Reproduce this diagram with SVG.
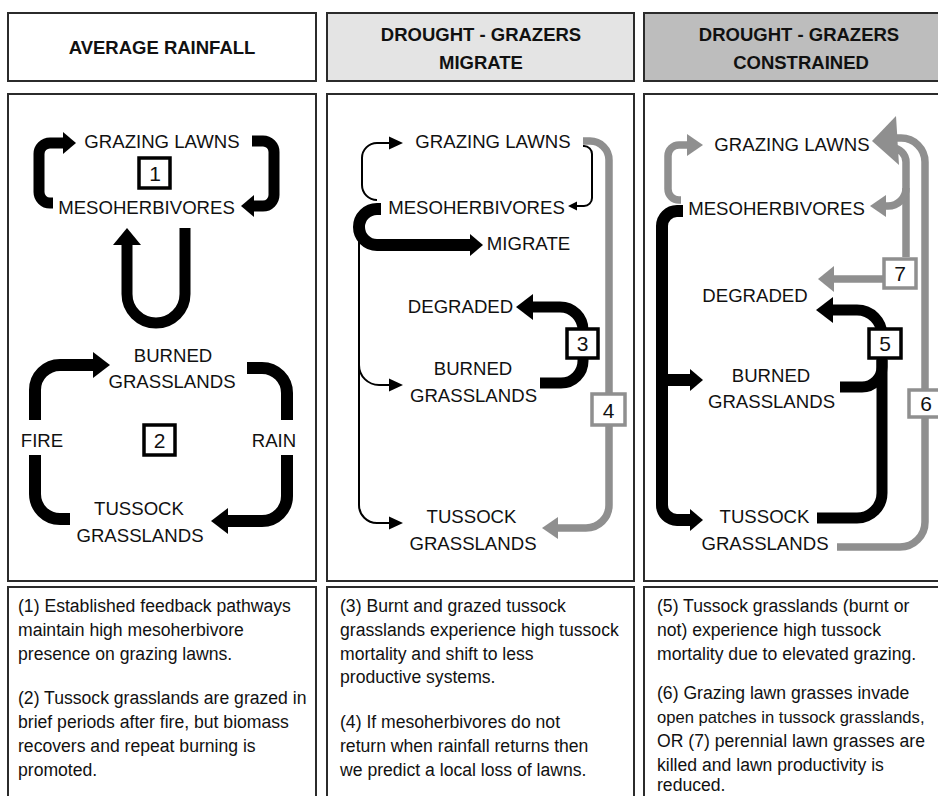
<svg xmlns="http://www.w3.org/2000/svg" width="938" height="796" viewBox="0 0 938 796">
<style>
.frame{fill:#fff;stroke:#2b2b2b;stroke-width:2}
.hd{font-family:"Liberation Sans",Arial,sans-serif;font-weight:bold;font-size:18.5px;fill:#111;text-anchor:middle}
.lb{font-family:"Liberation Sans",Arial,sans-serif;font-size:18.6px;fill:#111;text-anchor:middle}
.tx{font-family:"Liberation Sans",Arial,sans-serif;font-size:17.6px;fill:#111}
.num{font-family:"Liberation Sans",Arial,sans-serif;font-size:21px;fill:#111;text-anchor:middle}
.nb{fill:#fff;stroke:#000;stroke-width:3.5}
.ng{fill:#fff;stroke:#8f8f8f;stroke-width:3.5}
.k12{fill:none;stroke:#000;stroke-width:12}
.k11{fill:none;stroke:#000;stroke-width:11}
.k2{fill:none;stroke:#000;stroke-width:2}
.g7{fill:none;stroke:#8f8f8f;stroke-width:7.5}
</style>
<defs>
<marker id="bS" markerUnits="userSpaceOnUse" orient="auto" viewBox="-1 -11 14 22" markerWidth="14" markerHeight="22" refX="0" refY="0"><path d="M-1,-11 L12,0 L-1,11 z" fill="#000"/></marker>
<marker id="bL" markerUnits="userSpaceOnUse" orient="auto" viewBox="-1 -13 18 26" markerWidth="18" markerHeight="26" refX="0" refY="0"><path d="M-1,-13 L16,0 L-1,13 z" fill="#000"/></marker>
<marker id="bU" markerUnits="userSpaceOnUse" orient="auto" viewBox="-1 -14 18 28" markerWidth="18" markerHeight="28" refX="0" refY="0"><path d="M-1,-14 L16,0 L-1,14 z" fill="#000"/></marker>
<marker id="bT" markerUnits="userSpaceOnUse" orient="auto" viewBox="-1 -7 15 14" markerWidth="15" markerHeight="14" refX="0" refY="0"><path d="M-1,-6.5 L13,0 L-1,6.5 z" fill="#000"/></marker>
<marker id="bTs" markerUnits="userSpaceOnUse" orient="auto" viewBox="-1 -5 10 10" markerWidth="10" markerHeight="10" refX="0" refY="0"><path d="M-1,-4.5 L8,0 L-1,4.5 z" fill="#000"/></marker>
<marker id="gM" markerUnits="userSpaceOnUse" orient="auto" viewBox="-1 -12 17 24" markerWidth="17" markerHeight="24" refX="0" refY="0"><path d="M-1,-11 L15,0 L-1,11 z" fill="#8f8f8f"/></marker>
<marker id="gL" markerUnits="userSpaceOnUse" orient="auto" viewBox="-1 -13 17 26" markerWidth="17" markerHeight="26" refX="0" refY="0"><path d="M-1,-13 L15,0 L-1,13 z" fill="#8f8f8f"/></marker>
</defs>
<rect width="938" height="796" fill="#fff"/>

<g id="headers">
<g id="head-average"><rect class="frame" x="8" y="13" width="308" height="68"/><text class="hd" x="162" y="54">AVERAGE RAINFALL</text></g>
<g id="head-migrate"><rect class="frame" x="327" y="13" width="307" height="68" style="fill:#e4e4e4"/><text class="hd" x="481" y="41">DROUGHT - GRAZERS</text><text class="hd" x="481" y="69">MIGRATE</text></g>
<g id="head-constrained"><rect class="frame" x="644" y="13" width="300" height="68" style="fill:#bdbdbd"/><text class="hd" x="799" y="41">DROUGHT - GRAZERS</text><text class="hd" x="801" y="69">CONSTRAINED</text></g>
</g>

<g id="panels">
<rect class="frame" x="8" y="94" width="308" height="487"/>
<rect class="frame" x="327" y="94" width="307" height="487"/>
<rect class="frame" x="644" y="94" width="300" height="487"/>
<rect class="frame" x="8" y="587" width="308" height="215"/>
<rect class="frame" x="327" y="587" width="307" height="215"/>
<rect class="frame" x="644" y="587" width="300" height="215"/>
</g>

<g id="connectors">
<!-- panel 1 -->
<path class="k11" d="M53,203 H50 A11,11 0 0 1 39,192 V154 A11,11 0 0 1 50,143 H64" marker-end="url(#bS)"/>
<path class="k11" d="M252,141 H263 A11,11 0 0 1 274,152 V195 A11,11 0 0 1 263,206 H253" marker-end="url(#bS)"/>
<path class="k11" d="M185,228 V294 A29,29 0 0 1 127,294 V244" marker-end="url(#bU)"/>
<path class="k12" d="M70,519 H60 A25,25 0 0 1 35,494 V455"/>
<path class="k12" d="M35,420 V390 A25,25 0 0 1 60,365 H94" marker-end="url(#bL)"/>
<path class="k12" d="M247,368 H262 A25,25 0 0 1 287,393 V420"/>
<path class="k12" d="M287,455 V496 A25,25 0 0 1 262,521 H227" marker-end="url(#bL)"/>
<!-- panel 2 -->
<path class="k2" d="M377,200 A15,15 0 0 1 362,185 V158 A15,15 0 0 1 377,143 H390" marker-end="url(#bT)"/>
<path class="k2" d="M583,146 H584 A8,8 0 0 1 592,154 V198 A8,8 0 0 1 584,206 H576" marker-end="url(#bTs)"/>
<path class="k12" d="M381,209 H377 A18,18 0 0 0 377,245 H471" marker-end="url(#bS)"/>
<path class="k2" d="M359,235 V505 A18,18 0 0 0 377,523 H390" marker-end="url(#bT)"/>
<path class="k2" d="M359,365 A20,20 0 0 0 379,385 H390" marker-end="url(#bT)"/>
<path class="k11" d="M540,383 H561 A22,22 0 0 0 583,361 V330 A23,23 0 0 0 560,307 H532" marker-end="url(#bL)"/>
<path class="g7" d="M583,141 H590 A19,19 0 0 1 609,160 V505 A23,23 0 0 1 586,528 H557" marker-end="url(#gM)"/>
<!-- panel 3 -->
<path class="g7" d="M681,200 H679 A11,11 0 0 1 668,189 V156 A11,11 0 0 1 679,145 H688" marker-end="url(#gM)"/>
<path class="g7" d="M906,257 V162 A14,14 0 0 0 892,148"/>
<path class="g7" d="M906,188 A18,18 0 0 1 888,206 H885" marker-end="url(#gM)"/>
<path class="g7" d="M883,279 H833" marker-end="url(#gL)"/>
<path class="g7" d="M837,547 H900 A25,25 0 0 0 925,522 V162 A24,24 0 0 0 901,138 H896"/>
<polygon points="872,141 896,116 899,165" fill="#8f8f8f"/>
<path class="k12" d="M683,211 H677 A15,15 0 0 0 662,226 V505 A15,15 0 0 0 677,520 H691" marker-end="url(#bS)"/>
<path class="k12" d="M662,380 H691" marker-end="url(#bS)"/>
<path class="k11" d="M840,387 H862 A20,20 0 0 0 882,367 V335 A25,25 0 0 0 857,310 H832" marker-end="url(#bL)"/>
<path class="k11" d="M817,518 H857 A25,25 0 0 0 882,493 V360"/>
</g>

<g id="badges">
<g id="b1"><rect class="nb" x="139" y="158" width="31" height="30"/><text class="num" x="155" y="181">1</text></g>
<g id="b2"><rect class="nb" x="144" y="425" width="31" height="30"/><text class="num" x="159.5" y="448">2</text></g>
<g id="b3"><rect class="nb" x="567" y="329" width="31" height="29"/><text class="num" x="582.5" y="351">3</text></g>
<g id="b4"><rect class="ng" x="592" y="394" width="33" height="31"/><text class="num" x="608.5" y="418">4</text></g>
<g id="b5"><rect class="nb" x="869" y="329" width="32" height="29"/><text class="num" x="885" y="351">5</text></g>
<g id="b6"><rect class="ng" x="909" y="390" width="34" height="27"/><text class="num" x="926" y="411">6</text></g>
<g id="b7"><rect class="ng" x="884" y="259" width="32" height="29"/><text class="num" x="900" y="281">7</text></g>
</g>

<g id="p1-nodes">
<g id="p1-grazing"><text class="lb" x="162" y="148">GRAZING LAWNS</text></g>
<g id="p1-meso"><text class="lb" x="146.5" y="214">MESOHERBIVORES</text></g>
<g id="p1-burned"><text class="lb" x="173" y="362">BURNED</text><text class="lb" x="172" y="388">GRASSLANDS</text></g>
<g id="p1-fire"><text class="lb" x="42" y="447">FIRE</text></g>
<g id="p1-rain"><text class="lb" x="274" y="447">RAIN</text></g>
<g id="p1-tussock"><text class="lb" x="139" y="515">TUSSOCK</text><text class="lb" x="140" y="542">GRASSLANDS</text></g>
</g>
<g id="p2-nodes">
<g id="p2-grazing"><text class="lb" x="493" y="148">GRAZING LAWNS</text></g>
<g id="p2-meso"><text class="lb" x="476.5" y="214">MESOHERBIVORES</text></g>
<g id="p2-migrate"><text class="lb" x="528.5" y="250">MIGRATE</text></g>
<g id="p2-degraded"><text class="lb" x="460.5" y="313">DEGRADED</text></g>
<g id="p2-burned"><text class="lb" x="473" y="375">BURNED</text><text class="lb" x="473.5" y="402">GRASSLANDS</text></g>
<g id="p2-tussock"><text class="lb" x="471.5" y="523">TUSSOCK</text><text class="lb" x="473" y="550">GRASSLANDS</text></g>
</g>
<g id="p3-nodes">
<g id="p3-grazing"><text class="lb" x="792" y="151">GRAZING LAWNS</text></g>
<g id="p3-meso"><text class="lb" x="776.5" y="215">MESOHERBIVORES</text></g>
<g id="p3-degraded"><text class="lb" x="755" y="302">DEGRADED</text></g>
<g id="p3-burned"><text class="lb" x="771" y="382">BURNED</text><text class="lb" x="771.5" y="408">GRASSLANDS</text></g>
<g id="p3-tussock"><text class="lb" x="764.5" y="523">TUSSOCK</text><text class="lb" x="765" y="550">GRASSLANDS</text></g>
</g>

<g id="captions">
<text class="tx" x="18" y="612">(1) Established feedback pathways</text>
<text class="tx" x="18" y="636">maintain high mesoherbivore</text>
<text class="tx" x="18" y="660">presence on grazing lawns.</text>
<text class="tx" x="18" y="704">(2) Tussock grasslands are grazed in</text>
<text class="tx" x="18" y="728">brief periods after fire, but biomass</text>
<text class="tx" x="18" y="752">recovers and repeat burning is</text>
<text class="tx" x="18" y="776">promoted.</text>
<text class="tx" x="340" y="612">(3) Burnt and grazed tussock</text>
<text class="tx" x="340" y="636">grasslands experience high tussock</text>
<text class="tx" x="340" y="660">mortality and shift to less</text>
<text class="tx" x="340" y="683">productive systems.</text>
<text class="tx" x="340" y="728">(4) If mesoherbivores do not</text>
<text class="tx" x="340" y="752">return when rainfall returns then</text>
<text class="tx" x="340" y="776">we predict a local loss of lawns.</text>
<text class="tx" x="657" y="612">(5) Tussock grasslands (burnt or</text>
<text class="tx" x="657" y="636">not) experience high tussock</text>
<text class="tx" x="657" y="660">mortality due to elevated grazing.</text>
<text class="tx" x="657" y="699">(6) Grazing lawn grasses invade</text>
<text class="tx" x="657" y="723" style="font-size:16.6px">open patches in tussock grasslands,</text>
<text class="tx" x="657" y="747">OR (7) perennial lawn grasses are</text>
<text class="tx" x="657" y="771">killed and lawn productivity is</text>
<text class="tx" x="657" y="791">reduced.</text>
</g>
</svg>
